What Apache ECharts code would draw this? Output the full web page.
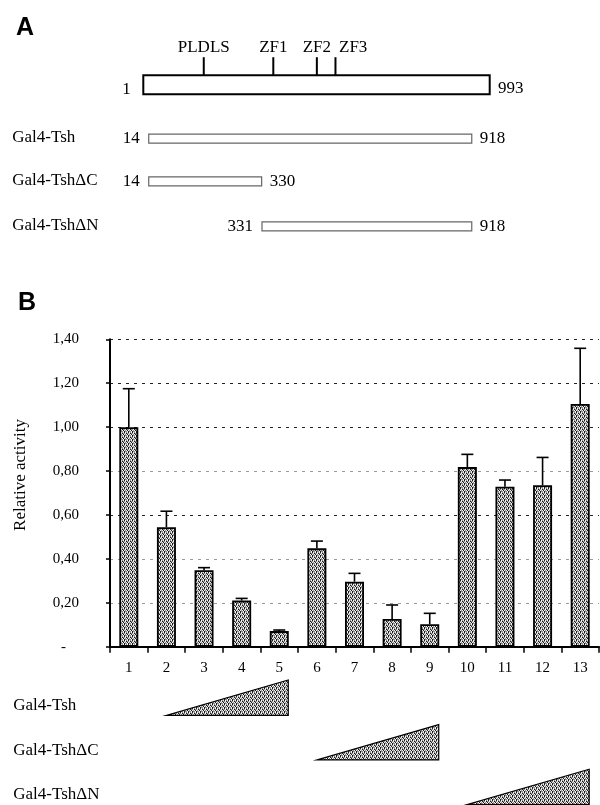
<!DOCTYPE html>
<html><head><meta charset="utf-8">
<script src="https://cdn.jsdelivr.net/npm/echarts@6/dist/echarts.min.js"></script>
<style>html,body{margin:0;padding:0;background:#fff}#c{width:600px;height:805px}</style>
</head><body><div id="c"></div>
<script>
// ---------- data ----------
const categories = ['1','2','3','4','5','6','7','8','9','10','11','12','13'];
const activity   = [1.00, 0.544, 0.348, 0.21, 0.071, 0.448, 0.296, 0.126, 0.102, 0.818, 0.729, 0.735, 1.105];
const errorTop   = [1.175, 0.617, 0.36, 0.22, 0.076, 0.481, 0.334, 0.19, 0.152, 0.876, 0.759, 0.862, 1.359];
const yTickLabels = ['-', '0,20', '0,40', '0,60', '0,80', '1,00', '1,20', '1,40'];
const proteinRange = [1, 993];
const domainNames = ['PLDLS', 'ZF1', 'ZF2', 'ZF3'];
const domainPos   = [176, 374, 498, 551];
const constructNames = ['Gal4-Tsh', 'Gal4-Tsh\u0394C', 'Gal4-Tsh\u0394N'];
const constructStart = [14, 14, 331];
const constructEnd   = [918, 330, 918];
const doseFirstLane = [2, 6, 10];
const doseLastLane  = [5, 9, 13];

// ---------- style helpers ----------
const SERIF = '"Liberation Serif", "Times New Roman", serif';
function stipple() {
  const c = document.createElement('canvas'); c.width = 4; c.height = 4;
  const g = c.getContext('2d');
  const cells = [
    ['#1a1a1a', '#f2f2f2', '#8c8c8c', '#f2f2f2'],
    ['#8c8c8c', '#f2f2f2', '#1a1a1a', '#8c8c8c'],
    ['#f2f2f2', '#8c8c8c', '#f2f2f2', '#1a1a1a'],
    ['#1a1a1a', '#8c8c8c', '#8c8c8c', '#f2f2f2']
  ];
  for (let r = 0; r < 4; r++) for (let k = 0; k < 4; k++) { g.fillStyle = cells[r][k]; g.fillRect(k, r, 1, 1); }
  return { image: c, repeat: 'repeat' };
}
const pattern = stipple();
const mctx = document.createElement('canvas').getContext('2d');
function textW(t, size) { mctx.font = size + 'px ' + SERIF; return mctx.measureText(t).width; }

// layout rows (y positions in grid 1 units)
const rowLayout = { protein: 1, constructs: [2.2, 3.15, 4.15] };

const chart = echarts.init(document.getElementById('c'), null, { renderer: 'canvas' });

const option = {
  animation: false,
  backgroundColor: '#fff',
  title: [
    { text: 'A', left: 11, top: 11, textStyle: { fontFamily: '"Liberation Sans", Arial, sans-serif', fontWeight: 900, fontSize: 25, color: '#000' } },
    { text: 'B', left: 13, top: 286, textStyle: { fontFamily: '"Liberation Sans", Arial, sans-serif', fontWeight: 900, fontSize: 25, color: '#000' } }
  ],
  grid: [
    { left: 110, right: 1, top: 339.3, height: 307.4, containLabel: false, outerBoundsMode: 'none' },
    { left: 142.3, width: 348.4, top: 39.7, height: 225, containLabel: false, outerBoundsMode: 'none' }
  ],
  xAxis: [
    {
      type: 'category', gridIndex: 0, data: categories,
      axisLine: { show: true, lineStyle: { color: '#000', width: 2 } },
      axisTick: { show: true, length: 6, lineStyle: { color: '#000', width: 1.5 } },
      axisLabel: { color: '#000', fontFamily: SERIF, fontSize: 15, margin: 14 },
      splitLine: { show: false }
    },
    { type: 'value', gridIndex: 1, min: proteinRange[0], max: proteinRange[1], show: false },
    { type: 'value', gridIndex: 1, min: -4, max: 971, show: false }
  ],
  yAxis: [
    {
      type: 'value', gridIndex: 0, min: 0, max: 1.4, interval: 0.2,
      name: 'Relative activity', nameLocation: 'middle', nameGap: 81,
      nameTextStyle: { color: '#000', fontFamily: SERIF, fontSize: 17, padding: [0, 0, 0, 36] },
      axisLine: { show: true, lineStyle: { color: '#000', width: 2 } },
      axisTick: { show: true, length: 4, lineStyle: { color: '#000', width: 1.5 } },
      axisLabel: {
        color: '#000', fontFamily: SERIF, fontSize: 15, margin: 31,
        formatter: function (v) { const i = Math.round(v / 0.2); return i === 0 ? '{z|' + yTickLabels[0] + '}' : yTickLabels[i]; },
        rich: { z: { fontFamily: SERIF, fontSize: 15, color: '#000', padding: [0, 13, 0, 0] } }
      },
      splitLine: { show: true, lineStyle: { type: [3, 5], width: 1, color: ['#000', '#999', '#999', '#222', '#999', '#222', '#222', '#222'] } }
    },
    { type: 'value', gridIndex: 1, min: 0, max: 5, inverse: true, show: false }
  ],
  series: [
    {
      type: 'bar', xAxisIndex: 0, yAxisIndex: 0, data: activity, barWidth: 19,
      itemStyle: { color: pattern, borderColor: '#000', borderWidth: 1.8 }
    },
    {
      type: 'custom', xAxisIndex: 0, yAxisIndex: 0,
      data: activity.map((v, i) => [i, v, errorTop[i]]),
      renderItem: function (params, api) {
        const p0 = api.coord([api.value(0), api.value(1)]);
        const p1 = api.coord([api.value(0), api.value(2)]);
        return { type: 'group', children: [
          { type: 'line', shape: { x1: p0[0], y1: p0[1], x2: p1[0], y2: p1[1] }, style: { stroke: '#000', lineWidth: 1.6 } },
          { type: 'line', shape: { x1: p1[0] - 6, y1: p1[1], x2: p1[0] + 6, y2: p1[1] }, style: { stroke: '#000', lineWidth: 1.6 } }
        ]};
      }
    },
    {
      // dose triangles below lanes
      type: 'custom', xAxisIndex: 0, yAxisIndex: 0,
      data: doseFirstLane.map((s, i) => [s - 1, doseLastLane[i] - 1, i]),
      renderItem: function (params, api) {
        const row = api.value(2);
        const a = api.coord([api.value(0), 0]);
        const b = api.coord([api.value(1), 0]);
        const bottom = a[1] + 68.6 + row * 44.6;
        const top = bottom - 35.3;
        const xl = a[0], xr = b[0] + 9;
        return { type: 'group', children: [
          { type: 'polygon', shape: { points: [[xl, bottom], [xr, bottom], [xr, top]] },
            style: { fill: pattern, stroke: '#000', lineWidth: 1.2 } },
          { type: 'text', style: { text: constructNames[row], x: 13.3, y: bottom - 9.6, textAlign: 'left', textVerticalAlign: 'middle',
            fontFamily: SERIF, fontSize: 17, fill: '#000' } }
        ]};
      }
    },
    {
      // full protein
      type: 'custom', xAxisIndex: 1, yAxisIndex: 1,
      data: [[proteinRange[0], proteinRange[1], rowLayout.protein]],
      renderItem: function (params, api) {
        const a = api.coord([api.value(0), api.value(2)]);
        const b = api.coord([api.value(1), api.value(2)]);
        const h = 19, top = a[1] - h / 2;
        const kids = [
          { type: 'rect', shape: { x: a[0] + 1, y: top, width: b[0] - a[0] - 2, height: h }, style: { fill: '#fff', stroke: '#000', lineWidth: 2 } },
          { type: 'text', style: { text: String(proteinRange[0]), x: a[0] - 11.6, y: a[1] + 4.5, textAlign: 'right', textVerticalAlign: 'middle', fontFamily: SERIF, fontSize: 17, fill: '#000' } },
          { type: 'text', style: { text: String(proteinRange[1]), x: b[0] + 7.3, y: a[1] + 3.5, textAlign: 'left', textVerticalAlign: 'middle', fontFamily: SERIF, fontSize: 17, fill: '#000' } }
        ];
        let prevRight = -Infinity;
        domainPos.forEach((d, i) => {
          const x = api.coord([d, api.value(2)])[0];
          kids.push({ type: 'line', shape: { x1: x, y1: top, x2: x, y2: top - 18 }, style: { stroke: '#000', lineWidth: 2 } });
          const w = textW(domainNames[i], 17);
          let left = x - w / 2;
          if (left < prevRight + 8) left = prevRight + 8;
          prevRight = left + w;
          kids.push({ type: 'text', style: { text: domainNames[i], x: left, y: top - 27.6, textAlign: 'left', textVerticalAlign: 'middle', fontFamily: SERIF, fontSize: 17, fill: '#000' } });
        });
        return { type: 'group', children: kids };
      }
    },
    {
      // constructs
      type: 'custom', xAxisIndex: 2, yAxisIndex: 1,
      data: constructStart.map((s, i) => [s, constructEnd[i], rowLayout.constructs[i], i]),
      renderItem: function (params, api) {
        const a = api.coord([api.value(0), api.value(2)]);
        const b = api.coord([api.value(1), api.value(2)]);
        const i = api.value(3);
        const h = 9;
        return { type: 'group', children: [
          { type: 'rect', shape: { x: a[0], y: a[1] - h / 2, width: b[0] - a[0], height: h }, style: { fill: '#fff', stroke: '#666', lineWidth: 1.2 } },
          { type: 'text', style: { text: String(constructStart[i]), x: a[0] - 9, y: a[1], textAlign: 'right', textVerticalAlign: 'middle', fontFamily: SERIF, fontSize: 17, fill: '#000' } },
          { type: 'text', style: { text: String(constructEnd[i]), x: b[0] + 8, y: a[1], textAlign: 'left', textVerticalAlign: 'middle', fontFamily: SERIF, fontSize: 17, fill: '#000' } },
          { type: 'text', style: { text: constructNames[i], x: 12.3, y: a[1] - 1.2, textAlign: 'left', textVerticalAlign: 'middle', fontFamily: SERIF, fontSize: 17, fill: '#000' } }
        ]};
      }
    }
  ]
};
chart.setOption(option);
</script>
</body></html>
